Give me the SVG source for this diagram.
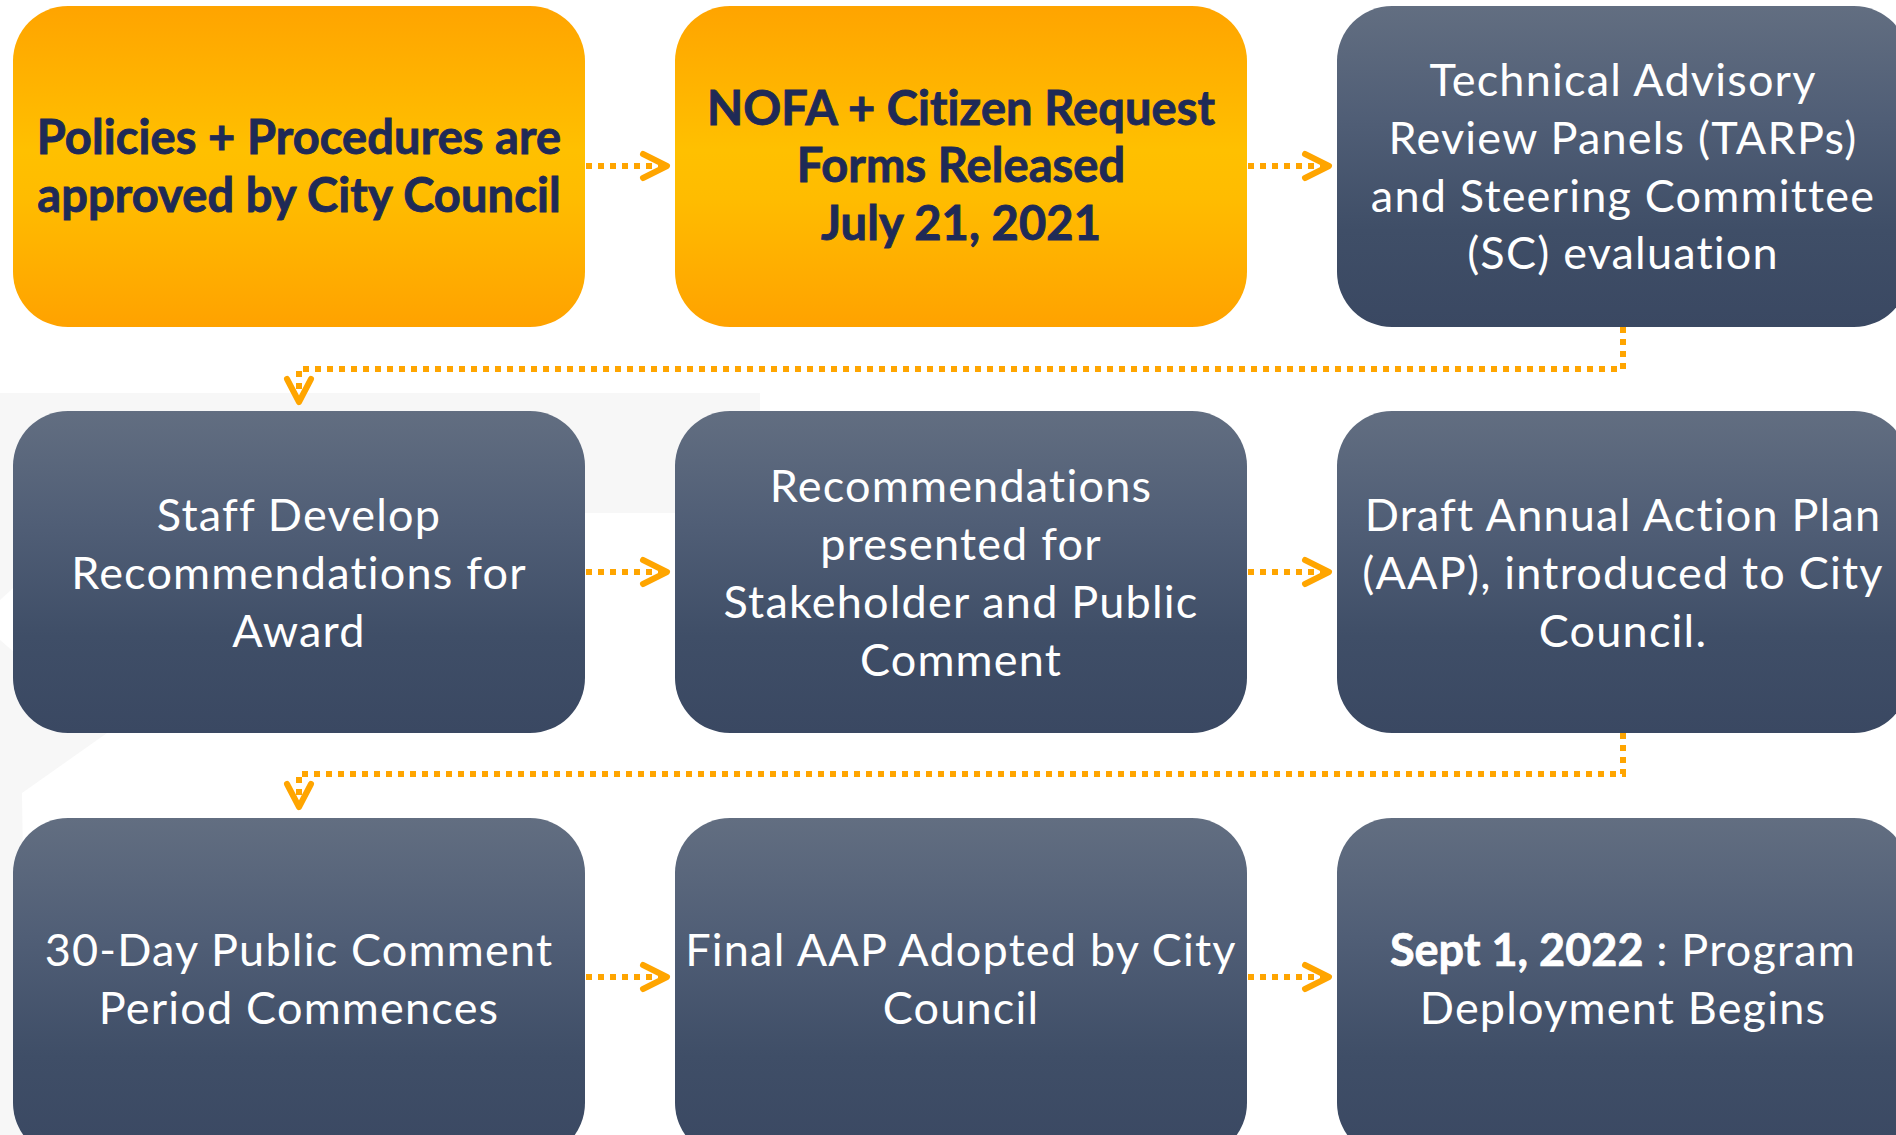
<svg xmlns="http://www.w3.org/2000/svg" width="1896" height="1135" viewBox="0 0 1896 1135">
  <defs>
    <linearGradient id="gOrange" x1="0" y1="0" x2="0" y2="1">
      <stop offset="0" stop-color="#FFA400"/>
      <stop offset="0.45" stop-color="#FFC000"/>
      <stop offset="0.6" stop-color="#FFBC00"/>
      <stop offset="1" stop-color="#FFA200"/>
    </linearGradient>
    <linearGradient id="gDark" x1="0" y1="0" x2="0" y2="1">
      <stop offset="0" stop-color="#626E81"/>
      <stop offset="0.35" stop-color="#505E76"/>
      <stop offset="0.7" stop-color="#3F4E67"/>
      <stop offset="1" stop-color="#3A4862"/>
    </linearGradient>
  </defs>
  <style>
    .orange { fill: url(#gOrange); }
    .dark { fill: url(#gDark); }
    .tb { font-family: Lato, "Liberation Sans", sans-serif; font-weight: 700; font-size: 47px; fill: #1F2A56; stroke: #1F2A56; stroke-width: 0.9px; text-anchor: middle; letter-spacing: 0.1px; }
    .tw { font-family: Lato, "Liberation Sans", sans-serif; font-weight: 400; font-size: 45px; fill: #FFFFFF; text-anchor: middle; letter-spacing: 1.2px; }
    .b { font-weight: 700; letter-spacing: 0px; stroke: #FFFFFF; stroke-width: 0.7px; }
    .dot { fill: none; stroke: #FFA500; stroke-width: 6; stroke-dasharray: 6 6; }
    .head { fill: none; stroke: #FFA500; stroke-width: 6; stroke-linecap: round; stroke-linejoin: round; }
  </style>

  <rect x="0" y="0" width="1896" height="1135" fill="#FFFFFF"/>
  <g id="background">
    <rect x="0" y="393" width="760" height="120" fill="#F7F7F7"/>
    <polygon points="0,513 95,513 0,600" fill="#F7F7F7"/>
    <polygon points="0,640 107,733 22,793 27,1135 0,1135" fill="#F7F7F7"/>
  </g>

  <g id="connectors">
    <line class="dot" x1="586" y1="166" x2="662" y2="166"/>
    <polyline class="head" points="643,154 667,166 643,178"/>
    <line class="dot" x1="1248" y1="166" x2="1324" y2="166"/>
    <polyline class="head" points="1305,154 1329,166 1305,178"/>

    <path class="dot" d="M1623,327 V369 H299 V392"/>
    <polyline class="head" points="287,379 299,402 311,379"/>

    <line class="dot" x1="586" y1="572" x2="662" y2="572"/>
    <polyline class="head" points="643,560 667,572 643,584"/>
    <line class="dot" x1="1248" y1="572" x2="1324" y2="572"/>
    <polyline class="head" points="1305,560 1329,572 1305,584"/>

    <path class="dot" d="M1623,733 V774 H299 V797"/>
    <polyline class="head" points="287,784 299,807 311,784"/>

    <line class="dot" x1="586" y1="977" x2="662" y2="977"/>
    <polyline class="head" points="643,965 667,977 643,989"/>
    <line class="dot" x1="1248" y1="977" x2="1324" y2="977"/>
    <polyline class="head" points="1305,965 1329,977 1305,989"/>
  </g>

  <g id="node1">
    <rect class="orange" x="13" y="6" width="572" height="321" rx="55" ry="55"/>
    <text class="tb" x="299" y="154">Policies + Procedures are</text>
    <text class="tb" x="299" y="212">approved by City Council</text>
  </g>
  <g id="node2">
    <rect class="orange" x="675" y="6" width="572" height="321" rx="55" ry="55"/>
    <text class="tb" x="961" y="125">NOFA + Citizen Request</text>
    <text class="tb" x="961" y="182">Forms Released</text>
    <text class="tb" x="961" y="240">July 21, 2021</text>
  </g>
  <g id="node3">
    <rect class="dark" x="1337" y="6" width="572" height="321" rx="55" ry="55"/>
    <text class="tw" x="1623" y="96">Technical Advisory</text>
    <text class="tw" x="1623" y="154">Review Panels (TARPs)</text>
    <text class="tw" x="1623" y="212">and Steering Committee</text>
    <text class="tw" x="1623" y="269">(SC) evaluation</text>
  </g>

  <g id="node4">
    <rect class="dark" x="13" y="411" width="572" height="322" rx="55" ry="55"/>
    <text class="tw" x="299" y="531">Staff Develop</text>
    <text class="tw" x="299" y="589">Recommendations for</text>
    <text class="tw" x="299" y="647">Award</text>
  </g>
  <g id="node5">
    <rect class="dark" x="675" y="411" width="572" height="322" rx="55" ry="55"/>
    <text class="tw" x="961" y="502">Recommendations</text>
    <text class="tw" x="961" y="560">presented for</text>
    <text class="tw" x="961" y="618">Stakeholder and Public</text>
    <text class="tw" x="961" y="676">Comment</text>
  </g>
  <g id="node6">
    <rect class="dark" x="1337" y="411" width="572" height="322" rx="55" ry="55"/>
    <text class="tw" x="1623" y="531">Draft Annual Action Plan</text>
    <text class="tw" x="1623" y="589">(AAP), introduced to City</text>
    <text class="tw" x="1623" y="647">Council.</text>
  </g>

  <g id="node7">
    <rect class="dark" x="13" y="818" width="572" height="340" rx="55" ry="55"/>
    <text class="tw" x="299" y="966">30-Day Public Comment</text>
    <text class="tw" x="299" y="1024">Period Commences</text>
  </g>
  <g id="node8">
    <rect class="dark" x="675" y="818" width="572" height="340" rx="55" ry="55"/>
    <text class="tw" x="961" y="966">Final AAP Adopted by City</text>
    <text class="tw" x="961" y="1024">Council</text>
  </g>
  <g id="node9">
    <rect class="dark" x="1337" y="818" width="572" height="340" rx="55" ry="55"/>
    <text class="tw" x="1623" y="966"><tspan class="b">Sept 1, 2022</tspan> : Program</text>
    <text class="tw" x="1623" y="1024">Deployment Begins</text>
  </g>
</svg>
